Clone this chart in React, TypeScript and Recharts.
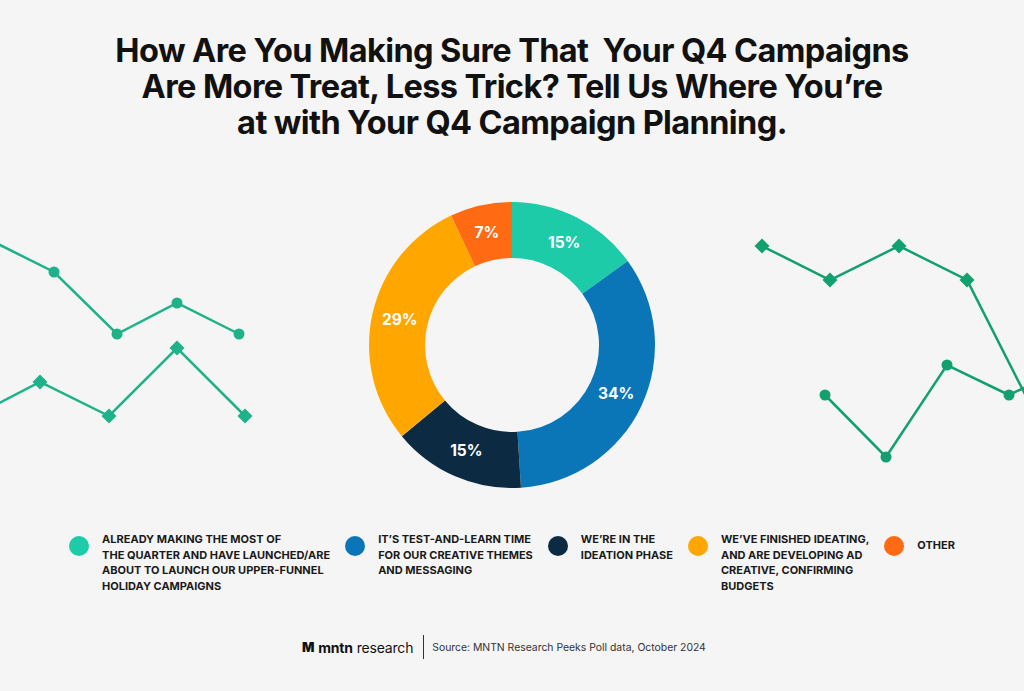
import { PieChart, Pie, Cell, LineChart, Line, XAxis, YAxis } from "recharts";

const categories = [
  "ALREADY MAKING THE MOST OF|THE QUARTER AND HAVE LAUNCHED/ARE|ABOUT TO LAUNCH OUR UPPER-FUNNEL|HOLIDAY CAMPAIGNS",
  "IT\u2019S TEST-AND-LEARN TIME|FOR OUR CREATIVE THEMES|AND MESSAGING",
  "WE\u2019RE IN THE|IDEATION PHASE",
  "WE\u2019VE FINISHED IDEATING,|AND ARE DEVELOPING AD|CREATIVE, CONFIRMING|BUDGETS",
  "OTHER",
];
const shares = [15, 34, 15, 29, 7];
const colors = ["#1ecba8", "#0a76b8", "#0c2b42", "#ffa700", "#ff6a13"];

// decorative zig-zag lines (x / y on a page-sized scale, y grows downward)
const leftDots = [
  { x: -8, y: 241 }, { x: 54, y: 272 }, { x: 117, y: 334 }, { x: 177, y: 303 }, { x: 239, y: 334 },
];
const leftDiamonds = [
  { x: -28, y: 417 }, { x: 40, y: 382 }, { x: 109, y: 416 }, { x: 177, y: 348 }, { x: 245, y: 416 },
];
const rightDiamonds = [
  { x: 762, y: 246 }, { x: 830, y: 280 }, { x: 899, y: 246 }, { x: 967, y: 280 }, { x: 1035, y: 414 },
];
const rightDots = [
  { x: 825, y: 395 }, { x: 886, y: 457 }, { x: 947, y: 365 }, { x: 1009, y: 395 }, { x: 1070, y: 366 },
];

const title = [
  "How Are You Making Sure That\u00a0 Your Q4 Campaigns",
  "Are More Treat, Less Trick? Tell Us Where You\u2019re",
  "at with Your Q4 Campaign Planning.",
];

const pieData = categories.map((c, i) => ({ name: c, value: shares[i] }));

const FONT = "Inter, 'Noto Sans', sans-serif";

function Diamond(props: any) {
  const { cx, cy, fill } = props;
  if (cx == null || cy == null) return null;
  const s = 7.5;
  return <path d={`M${cx},${cy - s}L${cx + s},${cy}L${cx},${cy + s}L${cx - s},${cy}Z`} fill={fill} />;
}

function Dot(props: any) {
  const { cx, cy, fill } = props;
  if (cx == null || cy == null) return null;
  return <circle cx={cx} cy={cy} r={5.5} fill={fill} />;
}

const RAD = Math.PI / 180;
function renderLabel(props: any) {
  const { cx, cy, midAngle, innerRadius, outerRadius, value } = props;
  const r = (innerRadius + outerRadius) / 2;
  const x = cx + r * Math.cos(-midAngle * RAD);
  const y = cy + r * Math.sin(-midAngle * RAD);
  return (
    <text x={x} y={y} fill="#fff" textAnchor="middle" dominantBaseline="central"
      fontFamily={FONT} fontWeight={700} fontSize={15.5}>
      {`${value}%`}
    </text>
  );
}

export default function App() {
  const leftColor = "#1fb289";
  const rightColor = "#12a06e";
  return (
    <div style={{ position: "relative", width: 1024, height: 691, background: "#f5f5f5", overflow: "hidden", fontFamily: FONT }}>
      <style>{`body{margin:0}`}</style>

      <div style={{ position: "absolute", left: 0, top: 0 }}>
        <LineChart width={1024} height={691} margin={{ top: 0, right: 0, bottom: 0, left: 0 }}>
          <XAxis type="number" dataKey="x" domain={[0, 1024]} hide allowDataOverflow />
          <YAxis type="number" dataKey="y" domain={[0, 691]} reversed hide allowDataOverflow width={0} />
          <Line data={leftDots} dataKey="y" stroke={leftColor} strokeWidth={2.5} dot={<Dot fill={leftColor} />} isAnimationActive={false} />
          <Line data={leftDiamonds} dataKey="y" stroke={leftColor} strokeWidth={2.5} dot={<Diamond fill={leftColor} />} isAnimationActive={false} />
          <Line data={rightDiamonds} dataKey="y" stroke={rightColor} strokeWidth={2.5} dot={<Diamond fill={rightColor} />} isAnimationActive={false} />
          <Line data={rightDots} dataKey="y" stroke={rightColor} strokeWidth={2.5} dot={<Dot fill={rightColor} />} isAnimationActive={false} />
        </LineChart>
      </div>

      <div style={{ position: "absolute", left: 0, top: 33, width: 1024, textAlign: "center", fontSize: 32.5, fontWeight: 700, lineHeight: "36px", color: "#111", letterSpacing: -0.6 }}>
        {title.map((t) => <div key={t}>{t}</div>)}
      </div>

      <div style={{ position: "absolute", left: 357, top: 190 }}>
        <PieChart width={310} height={310} margin={{ top: 0, right: 0, bottom: 0, left: 0 }}>
          <Pie data={pieData} dataKey="value" cx={155} cy={155} innerRadius={87} outerRadius={143}
            startAngle={90} endAngle={-270} stroke="none" label={renderLabel} labelLine={false}
            isAnimationActive={false}>
            {pieData.map((d, i) => <Cell key={d.name} fill={colors[i]} />)}
          </Pie>
        </PieChart>
      </div>

      <div style={{ position: "absolute", left: 0, top: 532, width: 1024, display: "flex", justifyContent: "center", gap: 15 }}>
        {categories.map((c, i) => {
          const lines = c.split("|");
          return (
            <div key={c} style={{ display: "flex", alignItems: "flex-start" }}>
              <div style={{ width: 20, height: 20, borderRadius: 10, background: colors[i], marginTop: 4, marginRight: 13, flexShrink: 0 }} />
              <div style={{ fontSize: 11, fontWeight: 700, lineHeight: "15.7px", color: "#1a1a1a", whiteSpace: "nowrap", paddingTop: lines.length === 1 ? 6 : 0 }}>
                {lines.map((l) => <div key={l}>{l}</div>)}
              </div>
            </div>
          );
        })}
      </div>

      <div style={{ position: "absolute", left: 302, top: 635, height: 24, display: "flex", alignItems: "center" }}>
        <div style={{ fontSize: 14, color: "#111", letterSpacing: -0.2, display: "flex", alignItems: "center" }}>
          <span style={{ fontWeight: 900, fontSize: 13, marginRight: 4 }}>M</span>
          <span style={{ fontWeight: 700 }}>mntn</span>
          <span style={{ fontWeight: 400, marginLeft: 4 }}>research</span>
        </div>
        <div style={{ width: 1, height: 24, background: "#333", marginLeft: 10, marginRight: 8 }} />
        <div style={{ fontSize: 10.4, color: "#333" }}>Source: MNTN Research Peeks Poll data, October 2024</div>
      </div>
    </div>
  );
}
